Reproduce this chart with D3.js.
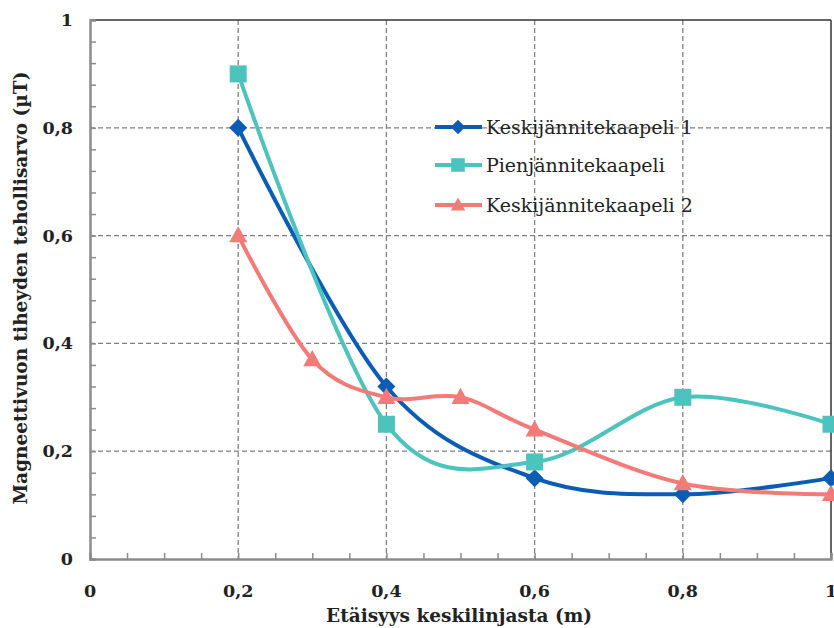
<!DOCTYPE html>
<html><head><meta charset="utf-8">
<script src="https://cdn.jsdelivr.net/npm/d3@7"></script>
<style>body{margin:0;background:#fff}</style>
</head><body><svg id="c" width="834" height="628"></svg>
<script>
const xTicks = [0, 0.2, 0.4, 0.6, 0.8, 1];
const yTicks = [0, 0.2, 0.4, 0.6, 0.8, 1];
const seriesNames = ["Keskijännitekaapeli 1", "Pienjännitekaapeli", "Keskijännitekaapeli 2"];
const s1x = [0.2, 0.4, 0.6, 0.8, 1.0];
const s1y = [0.80, 0.32, 0.15, 0.12, 0.15];
const s2x = [0.2, 0.4, 0.6, 0.8, 1.0];
const s2y = [0.90, 0.25, 0.18, 0.30, 0.25];
const s3x = [0.2, 0.3, 0.4, 0.5, 0.6, 0.8, 1.0];
const s3y = [0.60, 0.37, 0.30, 0.30, 0.24, 0.14, 0.12];

const colors = ["#0b5cb5", "#4cc3bd", "#f27b78"];
const diamond = r => `M0,${-r}L${r},0L0,${r}L${-r},0Z`;
const square = r => `M${-r},${-r}H${r}V${r}H${-r}Z`;
const triangle = r => `M0,${-r*1.05}L${r},${r*0.75}L${-r},${r*0.75}Z`;
const symbols = [diamond, square, triangle];
const symR = [9, 8.5, 9];
const series = [
  {name: seriesNames[0], pts: s1x.map((x,i)=>[x,s1y[i]])},
  {name: seriesNames[1], pts: s2x.map((x,i)=>[x,s2y[i]])},
  {name: seriesNames[2], pts: s3x.map((x,i)=>[x,s3y[i]])}
];

const svg = d3.select("#c");
const L = 90, R = 831, T = 20, B = 559;
const x = d3.scaleLinear().domain([0,1]).range([L,R]);
const y = d3.scaleLinear().domain([0,1]).range([B,T]);
const font = "'DejaVu Serif', serif";

// grid
const g = svg.append("g");
g.selectAll(".gx").data(xTicks.filter(v=>v>0&&v<1)).join("line")
  .attr("x1",d=>x(d)).attr("x2",d=>x(d)).attr("y1",T).attr("y2",B)
  .attr("stroke","#808080").attr("stroke-width",1.3).attr("stroke-dasharray","5,3");
g.selectAll(".gy").data(yTicks.filter(v=>v>0&&v<1)).join("line")
  .attr("y1",d=>y(d)).attr("y2",d=>y(d)).attr("x1",L).attr("x2",R)
  .attr("stroke","#808080").attr("stroke-width",1.3).attr("stroke-dasharray","5,3");

// top/right border
svg.append("line").attr("x1",L).attr("x2",R).attr("y1",T).attr("y2",T).attr("stroke","#333").attr("stroke-width",1.5);
svg.append("line").attr("x1",R).attr("x2",R).attr("y1",T).attr("y2",B).attr("stroke","#333").attr("stroke-width",1.5);

// axes
const xAxis = svg.append("g").attr("transform",`translate(0,${B})`)
  .call(d3.axisBottom(x).tickValues(d3.range(0,1.0001,0.05)).tickSize(-6).tickFormat(""));
const yAxis = svg.append("g").attr("transform",`translate(${L},0)`)
  .call(d3.axisLeft(y).tickValues(d3.range(0,1.0001,0.04)).tickSize(-6).tickFormat(""));
[xAxis,yAxis].forEach(a=>{
  a.select(".domain").attr("stroke","#8c8c8c").attr("stroke-width",2.5);
  a.selectAll(".tick line").attr("stroke","#8c8c8c").attr("stroke-width",1.5);
});

// tick labels
svg.append("g").selectAll("text").data(xTicks).join("text")
  .attr("x",d=>x(d)).attr("y",597).attr("text-anchor","middle")
  .attr("font-family",font).attr("font-weight","bold").attr("font-size",17.5).attr("fill","#222")
  .text(d=>String(d).replace(".",","));
svg.append("g").selectAll("text").data(yTicks).join("text")
  .attr("x",73).attr("y",d=>y(d)+6).attr("text-anchor","end")
  .attr("font-family",font).attr("font-weight","bold").attr("font-size",17.5).attr("fill","#222")
  .text(d=>String(d).replace(".",","));

// titles
svg.append("text").attr("x",459).attr("y",622).attr("text-anchor","middle")
  .attr("font-family",font).attr("font-weight","bold").attr("font-size",18.5).attr("fill","#222")
  .text("Etäisyys keskilinjasta (m)");
svg.append("text").attr("transform",`translate(27,288) rotate(-90)`).attr("text-anchor","middle")
  .attr("font-family",font).attr("font-weight","bold").attr("font-size",18.5).attr("fill","#222")
  .text("Magneettivuon tiheyden tehollisarvo (µT)");

// lines
const line = d3.line().x(d=>x(d[0])).y(d=>y(d[1])).curve(d3.curveCatmullRom.alpha(0));
series.forEach((s,i)=>{
  svg.append("path").attr("d",line(s.pts)).attr("fill","none")
    .attr("stroke",colors[i]).attr("stroke-width",4).attr("stroke-linejoin","round");
});
series.forEach((s,i)=>{
  svg.append("g").selectAll("path").data(s.pts).join("path")
    .attr("transform",d=>`translate(${x(d[0])},${y(d[1])})`)
    .attr("d",symbols[i](symR[i])).attr("fill",colors[i]);
});

// legend
const legY = [127, 165, 205];
series.forEach((s,i)=>{
  const lg = svg.append("g");
  lg.append("line").attr("x1",435).attr("x2",482).attr("y1",legY[i]).attr("y2",legY[i])
    .attr("stroke",colors[i]).attr("stroke-width",4);
  lg.append("path").attr("transform",`translate(458,${legY[i]})`)
    .attr("d",symbols[i](symR[i]*0.8)).attr("fill",colors[i]);
  lg.append("text").attr("x",486).attr("y",legY[i]+6.5).attr("font-family",font)
    .attr("font-size",19).attr("fill","#222").text(s.name);
});
</script></body></html>
